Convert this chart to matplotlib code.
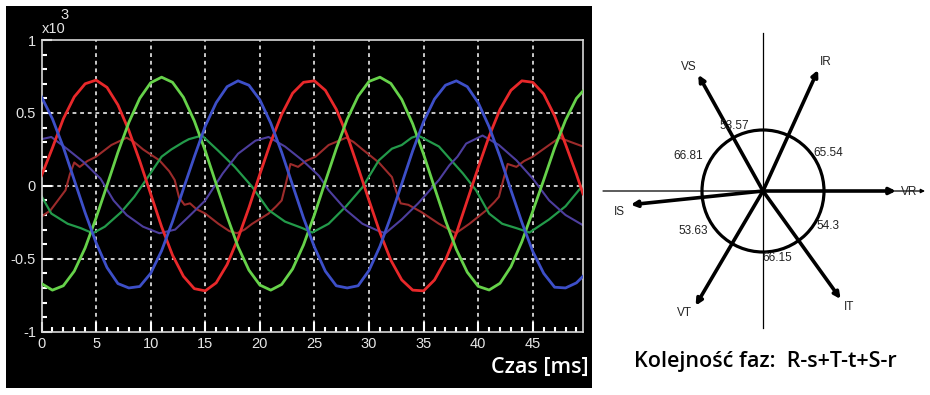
import numpy as np
import matplotlib
matplotlib.use('Agg')
import matplotlib.pyplot as plt
from matplotlib.patches import Rectangle, Circle

# ---------------- data: waveforms (x10^3) ----------------
t_v = [float(i) for i in range(50)] + [49.6]
v_r = [0.07, 0.26, 0.46, 0.61, 0.70, 0.725, 0.675, 0.555, 0.38, 0.17,
       -0.055, -0.28, -0.475, -0.62, -0.705, -0.72, -0.665, -0.54, -0.36, -0.15,
       0.08, 0.30, 0.49, 0.635, 0.71, 0.72, 0.655, 0.525, 0.345, 0.125,
       -0.10, -0.32, -0.51, -0.645, -0.715, -0.72, -0.645, -0.51, -0.325, -0.10,
       0.125, 0.34, 0.525, 0.655, 0.72, 0.71, 0.63, 0.48, 0.285, 0.08, -0.055]
v_s = [-0.67, -0.715, -0.685, -0.585, -0.425, -0.22, 0.003, 0.23, 0.435, 0.60,
       0.707, 0.745, 0.71, 0.607, 0.445, 0.24, 0.013, -0.21, -0.417, -0.578,
       -0.68, -0.715, -0.676, -0.57, -0.405, -0.198, 0.03, 0.255, 0.457, 0.615,
       0.716, 0.745, 0.702, 0.592, 0.425, 0.216, -0.012, -0.237, -0.436, -0.592,
       -0.689, -0.714, -0.668, -0.554, -0.383, -0.174, 0.04, 0.26, 0.45, 0.60, 0.65]
v_t = [0.61, 0.46, 0.265, 0.04, -0.185, -0.39, -0.56, -0.67, -0.70, -0.69,
       -0.60, -0.445, -0.245, -0.02, 0.20, 0.41, 0.57, 0.68, 0.72, 0.69,
       0.59, 0.43, 0.23, 0.005, -0.22, -0.42, -0.585, -0.685, -0.70, -0.685,
       -0.58, -0.415, -0.21, 0.015, 0.24, 0.44, 0.595, 0.69, 0.72, 0.68,
       0.57, 0.405, 0.20, -0.03, -0.25, -0.45, -0.60, -0.695, -0.70, -0.665, -0.62]

t_ir = [0, 0.8, 1.5, 2.2, 2.6, 3.0, 3.5, 4.2, 5.0, 6.4, 7.8, 8.5, 9.3, 10.8, 11.7,
        12.2, 12.6, 13.1, 13.6, 14.2, 15.0, 16.2, 17.2, 17.9, 18.6, 19.3, 20.8,
        21.5, 22.0, 22.4, 22.8, 23.5, 24.2, 25.1, 26.3, 27.9, 28.6, 29.4, 30.9,
        32.1, 32.5, 32.9, 33.6, 34.8, 36.4, 37.96, 39.2, 40.7, 41.5, 41.9, 42.3,
        42.7, 43.5, 44.2, 45.0, 46.5, 47.45, 48.5, 49.6]
i_r = [-0.21, -0.17, -0.10, -0.03, 0.08, 0.16, 0.13, 0.17, 0.20, 0.28, 0.33, 0.30,
       0.25, 0.175, 0.10, 0.04, -0.08, -0.13, -0.12, -0.16, -0.19, -0.26, -0.31,
       -0.325, -0.30, -0.26, -0.19, -0.14, -0.10, 0.02, 0.15, 0.13, 0.17, 0.20,
       0.28, 0.33, 0.30, 0.25, 0.16, 0.06, -0.04, -0.12, -0.13, -0.18, -0.26,
       -0.325, -0.26, -0.17, -0.11, -0.075, 0.04, 0.15, 0.13, 0.17, 0.20, 0.28,
       0.33, 0.30, 0.27]

t_is = [0, 0.9, 2.4, 3.6, 4.7, 5.8, 7.3, 8.5, 9.75, 11.0, 11.9, 13.0, 13.5, 14.7,
        16.2, 17.7, 19.3, 20.8, 22.3, 23.9, 24.8, 26.3, 27.9, 29.4, 30.9, 32.1,
        33.0, 33.9, 34.5, 36.4, 37.35, 38.6, 39.8, 41.0, 42.2, 43.5, 44.7, 46.5,
        48.0, 49.6]
i_s = [-0.07, -0.19, -0.26, -0.29, -0.325, -0.28, -0.18, -0.075, 0.06, 0.20, 0.25,
       0.30, 0.32, 0.345, 0.24, 0.13, -0.007, -0.166, -0.245, -0.29, -0.32, -0.26,
       -0.14, -0.01, 0.175, 0.255, 0.28, 0.33, 0.345, 0.27, 0.19, 0.085, -0.03,
       -0.19, -0.26, -0.29, -0.32, -0.23, -0.14, 0.005]

t_it = [0, 0.9, 2.4, 3.9, 5.4, 6.6, 7.8, 9.3, 10.8, 12.24, 13.5, 15.0, 16.6, 18.0,
        19.6, 20.8, 22.3, 23.9, 25.4, 26.3, 27.9, 29.4, 30.9, 31.5, 33.0, 34.5,
        36.4, 37.35, 38.1, 38.9, 40.4, 41.9, 43.5, 45.0, 46.5, 48.0, 49.6]
i_t = [0.32, 0.335, 0.25, 0.16, 0.05, -0.10, -0.20, -0.28, -0.325, -0.30, -0.21,
       -0.10, 0.085, 0.22, 0.31, 0.335, 0.27, 0.175, 0.07, -0.03, -0.166, -0.26,
       -0.31, -0.325, -0.23, -0.12, 0.04, 0.14, 0.20, 0.29, 0.345, 0.28, 0.175,
       0.05, -0.10, -0.20, -0.27]

x_ticks = [0, 5, 10, 15, 20, 25, 30, 35, 40, 45]
y_ticks = [-1, -0.5, 0, 0.5, 1]
y_ticklabels = ['-1', '-0.5', '0', '0.5', '1']

# ---------------- data: phasor diagram ----------------
phasor_names = ['VR', 'IR', 'VS', 'IS', 'VT', 'IT']
phasor_angles = [0.0, 65.54, 119.11, 185.92, 239.55, 305.7]
angle_labels = ['65.54', '53.57', '66.81', '53.63', '66.15', '54.3']

W, H = 930, 395
fig = plt.figure(figsize=(W / 100, H / 100), dpi=100)
fig.patch.set_facecolor('white')

# black scope panel
fig.add_artist(Rectangle((6 / W, 1 - 388 / H), (592 - 6) / W, (388 - 6) / H,
                         transform=fig.transFigure, facecolor='black',
                         edgecolor='none', zorder=0))

ax = fig.add_axes([41.5 / W, 1 - 331.7 / H, (583 - 41.5) / W, (331.7 - 40) / H])
ax.set_facecolor('black')
ax.set_xlim(0, 49.6)
ax.set_ylim(-1, 1)

for x in x_ticks[1:]:
    ax.axvline(x, color='white', lw=1.1, ls=(0, (2.5, 2.5)), zorder=1)
for y in [-0.5, 0, 0.5]:
    ax.axhline(y, color='white', lw=1.1, ls=(0, (2.5, 2.5)), zorder=1)

ax.plot(t_ir, i_r, color='#9c2b2b', lw=1.5, zorder=2)
ax.plot(t_is, i_s, color='#239a4a', lw=1.6, zorder=2)
ax.plot(t_it, i_t, color='#4d3e9e', lw=1.5, zorder=2)
ax.plot(t_v, v_r, color='#e8282a', lw=2.0, zorder=3)
ax.plot(t_v, v_s, color='#66d24a', lw=2.0, zorder=3)
ax.plot(t_v, v_t, color='#3d4fc8', lw=2.0, zorder=3)

for s in ax.spines.values():
    s.set_color('#d8d8d8')
    s.set_linewidth(1.2)

ax.set_xticks(x_ticks)
ax.set_yticks(y_ticks)
ax.set_yticklabels(y_ticklabels)
ax.set_xticks(np.arange(0, 50, 1), minor=True)
ax.set_yticks(np.arange(-1, 1.01, 0.1), minor=True)
ax.tick_params(which='major', direction='in', length=7, width=1.5, color='white',
               labelcolor='#e6e6e6', pad=4)
ax.tick_params(which='minor', direction='in', length=3.5, width=1.5, color='white')
for lab in ax.get_xticklabels() + ax.get_yticklabels():
    lab.set_fontfamily(['Liberation Sans', 'DejaVu Sans'])
    lab.set_fontsize(10.5)

fig.text(42 / W, 1 - 29 / H, 'x10', color='#e6e6e6', fontsize=10.5,
         family=['Liberation Sans', 'DejaVu Sans'], ha='left', va='center')
fig.text(60 / W, 1 - 15 / H, '3', color='#e6e6e6', fontsize=10.5,
         family=['Liberation Sans', 'DejaVu Sans'], ha='left', va='center')
fig.text(589 / W, 1 - 367 / H, 'Czas [ms]', color='white', fontsize=15.5,
         fontweight='semibold',
         family=['Open Sans', 'DejaVu Sans'], ha='right', va='center')

# ---------------- phasor diagram ----------------
ax2 = fig.add_axes([600 / W, 0, 330 / W, 1])
ax2.set_xlim(600, 930)
ax2.set_ylim(395, 0)
ax2.axis('off')
cx, cy = 763.0, 191.0
L = 133.0
ax2.annotate('', xy=(925, cy), xytext=(603, cy),
             arrowprops=dict(arrowstyle='-|>', lw=0.9, color='black',
                             mutation_scale=6, shrinkA=0, shrinkB=0))
ax2.plot([cx, cx], [33, 328], color='black', lw=0.9)
ax2.add_patch(Circle((cx, cy), 61, fill=False, lw=2.3, color='black'))
for name, ang in zip(phasor_names, phasor_angles):
    a = np.deg2rad(ang)
    tip = (cx + L * np.cos(a), cy - L * np.sin(a))
    ax2.annotate('', xy=tip, xytext=(cx, cy),
                 arrowprops=dict(arrowstyle='-|>', lw=2.6, color='black',
                                 mutation_scale=9, shrinkA=0, shrinkB=0))

lab_font = dict(family=['Liberation Sans', 'DejaVu Sans'], fontsize=8.5, color='#222222')
name_pos = {'VR': (909, 192), 'IR': (826, 62), 'VS': (689, 67),
            'IS': (619, 212), 'VT': (684, 313), 'IT': (849, 307)}
for name in phasor_names:
    x, y = name_pos[name]
    ax2.text(x, y, name, ha='center', va='center', **lab_font)
ang_pos = [(828, 153), (734, 126), (688, 156), (693, 231), (777, 258), (828, 226)]
for txt, (x, y) in zip(angle_labels, ang_pos):
    ax2.text(x, y, txt, ha='center', va='center', **lab_font)

fig.text(765 / W, 1 - 362 / H, 'Kolejność faz:  R-s+T-t+S-r', color='black',
         fontsize=15.5, fontweight='semibold',
         family=['Open Sans', 'DejaVu Sans'], ha='center', va='center')

fig.savefig('out.png', dpi=100, facecolor='white')
